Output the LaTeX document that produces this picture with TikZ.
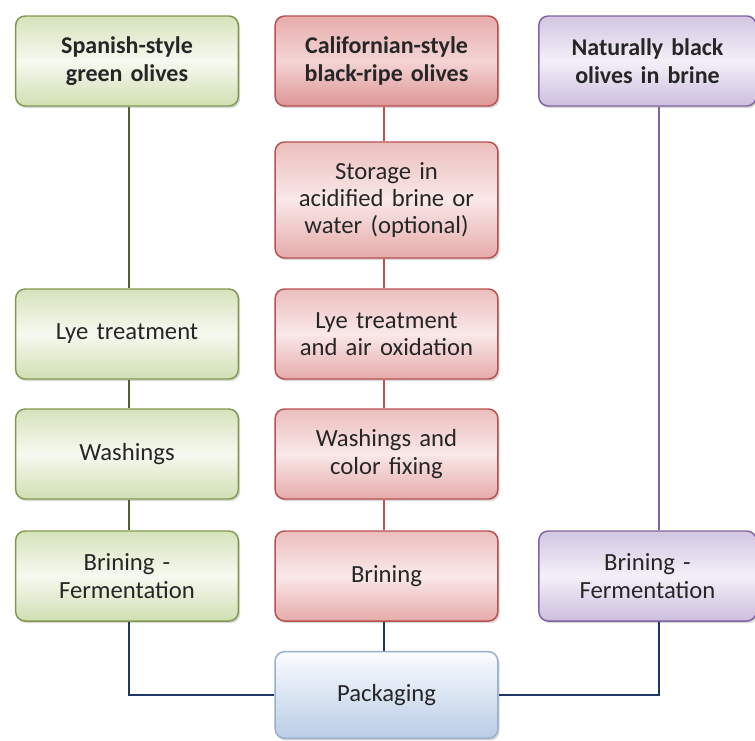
\documentclass[tikz,border=0pt]{standalone}
\usepackage{fontspec}
\setmainfont{Carlito}
\usetikzlibrary{shadows}
\definecolor{txt}{RGB}{38,38,38}
\definecolor{gbord}{RGB}{130,152,80}
\definecolor{gtop}{RGB}{214,227,188}
\definecolor{gmid}{RGB}{246,249,240}
\definecolor{gbot}{RGB}{208,223,178}
\definecolor{gline}{RGB}{80,98,44}
\definecolor{rbord}{RGB}{185,80,80}
\definecolor{rtop}{RGB}{236,190,190}
\definecolor{rmid}{RGB}{250,232,232}
\definecolor{rbot}{RGB}{230,170,170}
\definecolor{rtitletop}{RGB}{232,172,172}
\definecolor{rtitlemid}{RGB}{244,212,212}
\definecolor{rtitlebot}{RGB}{222,150,150}
\definecolor{rline}{RGB}{192,80,77}
\definecolor{pbord}{RGB}{128,100,162}
\definecolor{ptop}{RGB}{210,198,226}
\definecolor{pmid}{RGB}{244,240,248}
\definecolor{pbot}{RGB}{204,190,222}
\definecolor{pline}{RGB}{128,100,162}
\definecolor{bbord}{RGB}{150,175,205}
\definecolor{btop}{RGB}{250,252,255}
\definecolor{bbot}{RGB}{185,205,229}
\definecolor{nline}{RGB}{31,56,100}
\tikzset{
  box/.style={rounded corners=7pt, line width=1.1pt, minimum width=167pt,
    minimum height=67.5pt, text width=163pt, align=center, inner sep=0pt,
    font=\fontsize{18.5}{20.5}\selectfont, text=txt,
    drop shadow={shadow xshift=1.3pt, shadow yshift=-1.6pt, opacity=0.3}},
  title/.style={font=\bfseries\fontsize{18}{20.5}\selectfont},
  gbox/.style={box, draw=gbord, top color=gtop, bottom color=gbot, middle color=gmid},
  rbox/.style={box, draw=rbord, top color=rtop, bottom color=rbot, middle color=rmid},
  rtbox/.style={box, draw=rbord, top color=rtitletop, bottom color=rtitlebot, middle color=rtitlemid},
  pbox/.style={box, minimum width=158pt, draw=pbord, top color=ptop, bottom color=pbot, middle color=pmid},
  bbox/.style={box, draw=bbord, top color=btop, bottom color=bbot},
  conn/.style={line width=1.9pt},
}
\begin{document}
\begin{tikzpicture}[x=0.75pt,y=-0.75pt]
\useasboundingbox (0,0) rectangle (755,740);
\coordinate (gx) at (129,0);
\coordinate (rx) at (384,0);
\coordinate (px) at (659,0);
% nodes
\node[gbox,title] (g0) at (127,61) {Spanish-style\\green olives};
\node[gbox] (g1) at (127,334) {Lye treatment};
\node[gbox] (g2) at (127,454) {Washings};
\node[gbox] (g3) at (127,576) {Brining -\\Fermentation};
\node[rtbox,title] (r0) at (386.5,61) {Californian-style\\black-ripe olives};
\node[rbox,minimum height=87pt] (r1) at (386.5,200) {Storage in\\acidified brine or\\water (optional)};
\node[rbox] (r2) at (386.5,334) {Lye treatment\\and air oxidation};
\node[rbox] (r3) at (386.5,454) {Washings and\\color fixing};
\node[rbox] (r4) at (386.5,576) {Brining};
\node[pbox,title] (p0) at (647.5,61) {Naturally black\\olives in brine};
\node[pbox] (p1) at (647.5,576) {Brining -\\Fermentation};
\node[bbox,minimum height=65pt] (pk) at (386.5,695) {Packaging};
% connectors
\draw[conn,gline] (g0.south -| gx) -- (g1.north -| gx);
\draw[conn,gline] (g1.south -| gx) -- (g2.north -| gx);
\draw[conn,gline] (g2.south -| gx) -- (g3.north -| gx);
\draw[conn,rline] (r0.south -| rx) -- (r1.north -| rx);
\draw[conn,rline] (r1.south -| rx) -- (r2.north -| rx);
\draw[conn,rline] (r2.south -| rx) -- (r3.north -| rx);
\draw[conn,rline] (r3.south -| rx) -- (r4.north -| rx);
\draw[conn,pline] (p0.south -| px) -- (p1.north -| px);
\draw[conn,nline] (g3.south -| gx) |- (pk.west);
\draw[conn,nline] (r4.south -| rx) -- (pk.north -| rx);
\draw[conn,nline] (p1.south -| px) |- (pk.east);
\end{tikzpicture}
\end{document}
